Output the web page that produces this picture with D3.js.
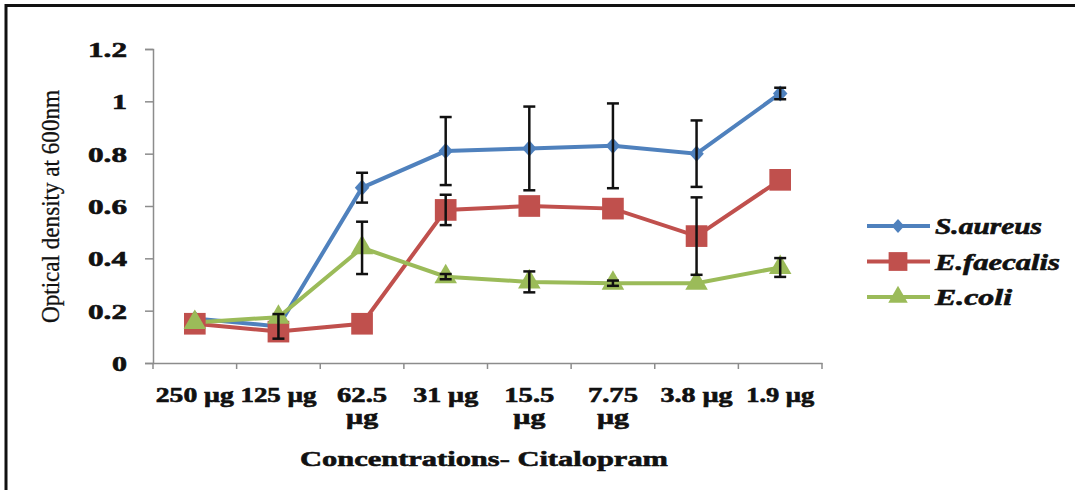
<!DOCTYPE html>
<html>
<head>
<meta charset="utf-8">
<script src="https://cdn.jsdelivr.net/npm/d3@7/dist/d3.min.js"></script>
<style>
  body { margin: 0; background: #fff; }
  svg { display: block; }
</style>
</head>
<body>
<div id="chart"></div>
<script>
var categories = ['250 µg', '125 µg', '62.5 µg', '31 µg', '15.5 µg', '7.75 µg', '3.8 µg', '1.9 µg'];
var saureus = [0.17, 0.14, 0.67, 0.81, 0.82, 0.83, 0.80, 1.03];
var saureusErr = [0, 0.047, 0.057, 0.13, 0.16, 0.162, 0.127, 0.022];
var efaecalis = [0.15, 0.12, 0.15, 0.585, 0.60, 0.59, 0.485, 0.70];
var efaecalisErr = [0, 0, 0, 0.058, 0, 0, 0.148, 0];
var ecoli = [0.155, 0.175, 0.44, 0.33, 0.31, 0.305, 0.305, 0.365];
var ecoliErr = [0, 0, 0.10, 0.01, 0.04, 0.01, 0, 0.036];
var yTicks = [0, 0.2, 0.4, 0.6, 0.8, 1, 1.2];

var width = 1075;
var height = 490;
var margin = {left: 153, right: 253, top: 49, bottom: 127};
var serif = '"Liberation Serif", "Times New Roman", serif';

// printed width of each x label line in the picture
var labelW = {'250': 78, '125': 76, '31': 65, '3.8': 72, '1.9': 68};

// square diamond like the office marker
var diamond = {
  draw: function(ctx, size) {
    var r = Math.sqrt(size / 2);
    ctx.moveTo(0, -r); ctx.lineTo(r * 0.9, 0); ctx.lineTo(0, r); ctx.lineTo(-r * 0.9, 0); ctx.closePath();
  }
};

var series = [
  {name: 'S.aureus', values: saureus, err: saureusErr, color: '#4F81BD', shape: diamond, size: 130, legendW: 107},
  {name: 'E.faecalis', values: efaecalis, err: efaecalisErr, color: '#C0504D', shape: d3.symbolSquare, size: 470, legendW: 125},
  {name: 'E.coli', values: ecoli, err: ecoliErr, color: '#9BBB59', shape: d3.symbolTriangle, size: 220, legendW: 77}
];

var svg = d3.select('#chart').append('svg').attr('width', width).attr('height', height);

// frame (only top and left edges show in the picture)
svg.append('line').attr('x1', 5).attr('x2', width).attr('y1', 5.5).attr('y2', 5.5)
  .attr('stroke', '#111').attr('stroke-width', 3);
svg.append('line').attr('x1', 6).attr('x2', 6).attr('y1', 4).attr('y2', height)
  .attr('stroke', '#111').attr('stroke-width', 3);

var x = d3.scaleBand().domain(categories).range([margin.left, width - margin.right]);
var y = d3.scaleLinear().domain([0, 1.2]).range([height - margin.bottom, margin.top]);
var cx = function(i) { return x(categories[i]) + x.bandwidth() / 2; };

// y axis
var yAxis = svg.append('g')
  .attr('transform', 'translate(' + margin.left + ',0)')
  .call(d3.axisLeft(y).tickValues(yTicks).tickSize(8).tickPadding(18).tickFormat(function(d) { return d3.format('')(d); }));
yAxis.select('.domain').attr('stroke', '#8c8c8c').attr('stroke-width', 1.5);
yAxis.selectAll('.tick line').attr('stroke', '#8c8c8c').attr('stroke-width', 1.5);
yAxis.selectAll('.tick text')
  .attr('fill', '#111')
  .attr('dy', '0.36em')
  .attr('textLength', function(d) { return String(d).length === 1 ? 15 : 39; })
  .attr('lengthAdjust', 'spacingAndGlyphs')
  .style('font-family', serif)
  .style('font-weight', 'bold')
  .style('font-size', '21px')
  .style('stroke', '#111').style('stroke-width', 0.6);

// x axis
var xAxis = svg.append('g')
  .attr('transform', 'translate(0,' + (height - margin.bottom) + ')')
  .call(d3.axisBottom(x).tickSize(0).tickFormat(''));
xAxis.select('.domain').attr('stroke', '#8c8c8c').attr('stroke-width', 1.5);
xAxis.selectAll('.tick').remove();
var xTickPos = categories.map(function(c) { return x(c); }).concat([width - margin.right]);
xAxis.selectAll('.xt').data(xTickPos).enter().append('line')
  .attr('x1', function(d) { return d; }).attr('x2', function(d) { return d; })
  .attr('y1', 0).attr('y2', 6)
  .attr('stroke', '#8c8c8c').attr('stroke-width', 1.5);

// x tick labels (the long ones wrap in the original)
categories.forEach(function(c, i) {
  var parts = c.split(' ');
  var wrap = !labelW[parts[0]];
  var t = svg.append('text')
    .attr('y', 402)
    .attr('text-anchor', 'middle')
    .style('font-family', serif)
    .style('font-weight', 'bold')
    .style('font-size', '20px')
    .style('stroke', '#111').style('stroke-width', 0.6)
    .attr('fill', '#111');
  if (wrap) {
    t.append('tspan').attr('x', cx(i)).attr('textLength', 50).attr('lengthAdjust', 'spacingAndGlyphs').text(parts[0]);
    t.append('tspan').attr('x', cx(i)).attr('dy', 22).attr('textLength', 32).attr('lengthAdjust', 'spacingAndGlyphs').text(parts[1]);
  } else {
    t.attr('x', cx(i)).attr('textLength', labelW[parts[0]]).attr('lengthAdjust', 'spacingAndGlyphs').text(c);
  }
});

// axis titles
svg.append('text')
  .attr('x', 484).attr('y', 466)
  .attr('text-anchor', 'middle')
  .attr('textLength', 368).attr('lengthAdjust', 'spacingAndGlyphs')
  .style('font-family', serif)
  .style('font-weight', 'bold')
  .style('font-size', '22px')
  .style('stroke', '#111').style('stroke-width', 0.6)
  .attr('fill', '#111')
  .text('Concentrations- Citalopram');

svg.append('text')
  .attr('transform', 'translate(59,' + ((90 + 323) / 2) + ') rotate(-90)')
  .attr('text-anchor', 'middle')
  .attr('textLength', 233).attr('lengthAdjust', 'spacingAndGlyphs')
  .style('font-family', serif)
  .style('font-size', '25px')
  .style('stroke', '#111').style('stroke-width', 0.3)
  .attr('fill', '#111')
  .text('Optical density at 600nm');

// lines
var line = d3.line()
  .x(function(d, i) { return cx(i); })
  .y(function(d) { return y(d); });

series.forEach(function(s) {
  svg.append('path')
    .datum(s.values)
    .attr('d', line)
    .attr('fill', 'none')
    .attr('stroke', s.color)
    .attr('stroke-width', 4);
});

// markers
series.forEach(function(s) {
  svg.selectAll(null).data(s.values).enter().append('path')
    .attr('d', d3.symbol().type(s.shape).size(s.size))
    .attr('transform', function(d, i) { return 'translate(' + cx(i) + ',' + y(d) + ')'; })
    .attr('fill', s.color);
});

// error bars
series.forEach(function(s) {
  s.values.forEach(function(v, i) {
    var e = s.err[i];
    if (!e) return;
    var g = svg.append('g').attr('stroke', '#111').attr('stroke-width', 2.5);
    g.append('line').attr('x1', cx(i)).attr('x2', cx(i)).attr('y1', y(v + e)).attr('y2', y(v - e));
    g.append('line').attr('x1', cx(i) - 6).attr('x2', cx(i) + 6).attr('y1', y(v + e)).attr('y2', y(v + e));
    g.append('line').attr('x1', cx(i) - 6).attr('x2', cx(i) + 6).attr('y1', y(v - e)).attr('y2', y(v - e));
  });
});

// legend
var legend = svg.append('g');
series.forEach(function(s, i) {
  var ly = 226 + i * 35.5;
  legend.append('line')
    .attr('x1', 867).attr('x2', 930).attr('y1', ly).attr('y2', ly)
    .attr('stroke', s.color).attr('stroke-width', 4);
  legend.append('path')
    .attr('d', d3.symbol().type(s.shape).size(s.size * 0.75))
    .attr('transform', 'translate(898,' + ly + ')')
    .attr('fill', s.color);
  legend.append('text')
    .attr('x', 935).attr('y', ly + 8)
    .attr('textLength', s.legendW).attr('lengthAdjust', 'spacingAndGlyphs')
    .style('font-family', serif)
    .style('font-weight', 'bold')
    .style('font-style', 'italic')
    .style('font-size', '23px')
    .style('stroke', '#111').style('stroke-width', 0.6)
    .attr('fill', '#111')
    .text(s.name);
});
</script>
</body>
</html>
